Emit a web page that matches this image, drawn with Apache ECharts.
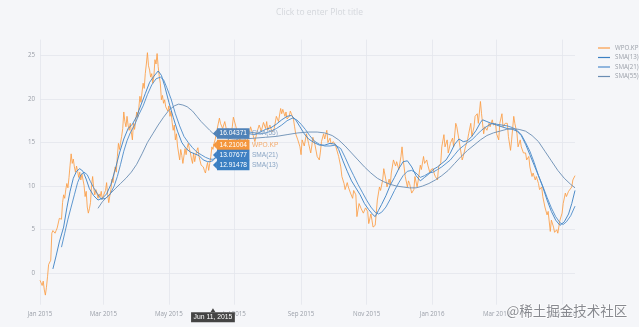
<!DOCTYPE html>
<html>
<head>
<meta charset="utf-8">
<script src="https://cdn.jsdelivr.net/npm/echarts@6/dist/echarts.min.js"></script>
<style>
  html, body { margin: 0; padding: 0; background: #f5f6f9; }
  #chart { width: 639px; height: 327px; }
</style>
</head>
<body>
<div id="chart"></div>
<script>
// Daily closes of WPO.KP with three simple moving averages.
// Days are counted from the first trading date (START).
const START = [2015, 0, 1];

const xTickLabels = ['Jan 2015', 'Mar 2015', 'May 2015', 'Jul 2015', 'Sep 2015',
                     'Nov 2015', 'Jan 2016', 'Mar 2016', 'May 2016'];
const yTicks = [0, 5, 10, 15, 20, 25];

const priceDay = [
  0,1,2,3,4,5,6,7,8,9,10,11,12,13,14,15,16,17,18,19,20,21,22,23,24,25,26,27,28,29,
  30,31,32,33,34,35,36,37,38,39,40,41,42,43,44,45,46,47,48,49,50,51,52,53,54,55,56,57,58,59,
  60,61,62,63,64,65,66,67,68,69,70,71,72,73,74,75,76,77,78,79,80,81,82,83,84,85,86,87,88,89,
  90,91,92,93,94,95,96,97,98,99,100,101,102,103,104,105,106,107,108,109,110,111,112,113,114,115,116,117,118,119,
  120,121,122,123,124,125,126,127,128,129,130,131,132,133,134,135,136,137,138,139,140,141,142,143,144,145,146,147,148,149,
  150,151,152,153,154,155,156,157,158,159,160,161,162,163,
  165,167,168,170,172,174,175,177,179,180,182,184,186,188,190,192,194,196,198,200,202,204,206,208,210,211,212,214,216,218,
  220,222,224,225,226,228,229,230,232,233,234,236,237,238,240,242,243,244,246,248,250,252,253,254,256,258,260,261,262,264,
  265,267,268,270,271,273,275,276,278,280,281,283,284,286,287,289,291,292,294,295,297,299,301,303,305,306,308,309,310,312,
  313,314,316,317,319,320,322,323,325,326,327,329,331,332,334,336,337,338,340,342,343,344,346,348,349,351,352,354,355,357,
  358,360,361,363,364,366,367,368,370,371,373,374,376,377,379,380,382,384,385,387,388,390,391,393,394,396,398,399,401,402,
  404,405,407,408,410,411,413,414,416,418,419,421,422,424,425,427,428,430,431,433,435,436,438,439,441,442,444,445,447,448,
  450,452,453,455,456,458,459,461,462,464,465,467,468,470,472,473,475,476,478,479,481,482,484,486,487,489,490,492,493,495,
  496,498
];
const priceValue = [
  -0.8,-1.1,-1.4,-0.9,-1.9,-2.5,-1.6,-0.4,1.0,0.8,1.5,4.6,4.9,4.7,4.6,4.9,5.2,5.0,6.3,6.5,6.2,8.1,9.0,8.6,9.6,10.3,9.8,11.0,12.4,13.7,
  12.6,13.1,12.2,11.6,12.3,11.7,11.0,11.6,10.7,11.4,11.6,10.1,8.8,9.4,7.6,6.9,7.4,8.1,10.1,11.1,9.8,9.0,9.6,9.2,8.6,9.1,8.8,9.4,8.5,8.9,
  9.0,9.5,10.4,9.0,8.1,8.9,9.6,10.8,10.4,11.5,12.2,11.6,13.4,14.9,14.2,15.0,15.7,16.6,18.5,17.4,16.8,18.0,17.0,16.4,17.2,16.2,15.3,17.2,16.5,17.4,
  18.5,17.9,19.0,20.3,19.6,20.8,21.8,21.2,22.9,24.0,25.3,23.8,23.3,22.5,22.9,21.8,22.6,24.5,24.0,25.2,23.7,22.6,21.8,19.9,20.4,19.5,19.9,19.1,19.3,18.6,
  19.2,18.0,18.6,17.3,16.4,17.0,15.3,16.0,14.6,13.8,13.0,14.2,13.5,12.6,12.6,14.3,13.6,14.4,14.9,14.3,13.8,13.1,12.6,13.8,12.8,13.5,14.1,14.4,13.4,12.9,
  12.4,12.6,12.2,11.8,11.5,12.2,12.7,11.8,12.6,13.4,14.5,14.21004,14.9,15.3,
  16.6,17.8,17.2,16.6,17.4,16.2,16.6,15.4,16.8,17.9,17.0,16.0,15.2,16.4,15.8,14.9,15.6,16.8,16.0,15.1,16.2,17.0,16.3,17.3,16.6,17.4,16.4,17.0,16.2,16.6,
  18.0,17.4,18.9,18.3,18.8,18.0,18.5,17.7,18.0,18.6,18.3,17.6,16.8,16.0,15.3,14.5,13.6,15.3,14.6,16.0,14.9,13.8,14.6,15.6,14.7,13.4,13.0,13.9,15.1,16.0,
  15.4,16.4,15.0,15.5,14.8,15.1,14.7,14.9,13.4,12.2,11.1,10.3,9.6,10.4,9.9,9.2,8.6,9.5,9.0,6.5,8.0,7.4,6.9,7.5,7.1,5.7,6.8,6.1,5.3,5.5,
  6.9,8.4,9.9,9.5,10.7,12.0,10.7,9.9,10.8,10.1,11.5,13.0,12.3,12.8,11.9,13.4,14.5,13.1,11.1,9.9,10.6,10.3,9.2,9.6,11.1,9.9,10.6,12.4,11.9,13.4,
  12.6,13.0,12.4,11.5,11.9,12.0,11.4,11.1,10.7,12.2,12.6,14.5,15.9,14.5,15.3,13.8,14.9,15.5,14.5,17.2,16.8,15.3,14.5,13.0,13.4,14.5,15.3,16.0,17.2,15.7,
  16.8,18.0,18.3,17.2,19.7,18.3,16.0,16.8,16.4,17.2,16.8,17.6,17.0,17.2,16.0,15.3,17.2,18.3,16.8,17.2,17.2,15.7,14.1,15.3,18.0,17.2,16.0,14.5,15.3,14.5,
  13.8,13.8,13.0,13.4,12.2,11.1,11.5,10.7,11.1,10.3,9.6,9.9,8.8,7.6,6.7,7.1,4.8,6.1,5.3,4.7,5.0,4.6,6.1,6.9,8.0,9.2,8.8,9.4,9.6,9.9,
  10.7,11.2
];

const sma13Day = [
  12,15,18,22,25,28,31,34,37,40,43,46,50,54,58,62,66,70,74,78,82,86,90,94,98,102,106,110,113,116,
  120,124,128,132,136,140,144,148,152,156,158,161,165,170,175,180,185,190,195,200,205,210,215,220,225,230,234,238,242,246,
  250,255,260,265,270,275,278,282,286,290,294,298,302,306,310,312,315,318,322,326,330,334,338,342,346,350,354,358,362,366,
  370,374,378,382,386,390,394,398,402,406,410,412,416,420,425,430,435,440,444,448,452,456,460,464,468,472,476,480,484,488,
  492,495,498
];
const sma13Value = [
  0.5,2.0,3.6,5.3,7.5,9.4,10.9,11.7,12.0,11.7,10.8,9.7,8.9,8.4,8.6,9.1,10.2,11.9,13.8,15.4,16.6,17.1,18.0,19.3,20.6,21.9,22.6,23.2,22.7,21.5,
  19.6,17.9,16.3,15.0,14.3,13.9,13.7,13.5,13.0,12.8,12.8,12.91478,13.6,14.4,15.3,16.0,16.3,16.4,16.0,15.9,16.2,16.5,16.7,17.1,17.6,18.0,18.1,17.6,16.8,16.0,
  15.4,15.0,14.7,14.7,14.9,14.8,14.2,12.9,11.7,10.6,9.8,9.0,8.0,7.3,6.7,6.5,7.2,7.9,8.9,10.1,11.0,12.0,12.8,12.9,12.2,11.2,10.6,11.0,11.4,11.9,
  12.2,12.6,13.0,13.8,14.8,15.4,15.1,15.2,15.7,16.4,17.3,17.6,17.4,17.2,17.0,16.8,16.6,16.5,16.3,15.8,14.8,13.6,12.4,11.2,9.9,8.4,7.1,6.1,5.5,5.9,
  6.8,8.0,9.5
];

const sma21Day = [
  20,23,26,29,32,35,38,41,44,47,50,54,57,61,65,69,72,75,78,81,84,88,92,96,100,104,108,112,115,118,
  122,126,130,134,138,142,146,150,154,158,161,165,170,175,180,185,190,195,200,205,210,215,220,225,230,235,239,243,247,251,
  255,260,265,270,275,280,284,288,292,296,300,304,308,312,315,318,322,326,330,334,338,342,346,350,354,358,362,366,370,374,
  378,382,386,390,394,398,402,406,410,414,418,421,425,430,435,440,444,448,452,456,460,464,468,472,476,480,484,487,490,494,
  498
];
const sma21Value = [
  3.0,4.6,6.2,7.6,9.0,10.4,11.3,11.6,11.3,10.5,9.8,9.0,8.5,8.6,9.0,10.0,11.1,12.5,14.0,15.2,16.1,17.0,18.2,19.2,20.5,21.6,22.3,22.5,22.2,21.3,
  20.0,18.3,16.9,15.7,15.0,14.4,13.9,13.6,13.3,13.1,13.07677,13.3,13.8,14.4,15.0,15.5,16.0,16.2,16.1,16.0,16.1,16.3,16.6,17.0,17.5,17.8,17.6,17.1,16.5,15.8,
  15.2,14.8,14.6,14.6,14.7,14.3,13.3,12.2,11.2,10.2,9.3,8.4,7.6,7.0,6.8,7.0,7.6,8.5,9.5,10.4,11.2,11.7,11.8,11.5,11.0,11.2,11.5,11.6,11.9,12.2,
  12.6,13.0,13.6,14.2,14.6,15.0,15.3,15.8,16.3,16.7,17.0,17.2,17.1,17.0,16.9,16.7,16.4,15.9,15.0,14.0,12.7,11.2,10.0,8.7,7.5,6.5,5.8,5.6,5.9,6.6,
  7.7
];

const sma55Day = [
  54,58,62,66,70,75,80,85,90,95,100,105,110,115,120,125,129,133,137,142,146,150,154,158,161,165,170,180,190,200,
  210,220,230,240,250,258,265,272,278,284,290,296,302,308,314,320,326,332,338,344,350,356,362,368,374,380,386,392,398,404,
  410,416,422,428,434,440,446,452,458,464,470,476,482,488,494,498
];
const sma55Value = [
  7.45,8.2,8.7,9.2,9.7,10.3,10.9,11.6,12.5,13.7,15.0,16.0,17.0,17.9,18.7,19.2,19.4,19.3,19.1,18.6,18.0,17.4,16.9,16.4,16.04371,15.8,15.6,15.4,15.4,15.5,
  15.6,15.7,15.9,16.1,16.2,16.2,16.1,15.8,15.3,14.6,13.8,13.0,12.2,11.5,10.9,10.5,10.2,10.0,9.9,9.8,9.8,10.0,10.3,10.7,11.2,11.8,12.6,13.4,14.1,14.7,
  15.3,15.8,16.1,16.3,16.5,16.6,16.5,16.3,15.8,15.1,14.0,12.9,11.8,10.9,10.2,9.8
];

// Day shown in the hover read-out
const HOVER_DAY = 161;

const MONTHS = ['Jan','Feb','Mar','Apr','May','Jun','Jul','Aug','Sep','Oct','Nov','Dec'];
const Y_MIN = -3.6, Y_MAX = 26.8;

function dayToTime(d) {
  return new Date(START[0], START[1], START[2] + d).getTime();
}
function labelToTime(s) {
  const [m, y] = s.split(' ');
  return new Date(+y, MONTHS.indexOf(m), 1).getTime();
}
function pairs(days, values) {
  return days.map((d, i) => [dayToTime(d), values[i]]);
}
function valueAt(days, values, d) {
  return values[days.indexOf(d)];
}

const tickTimes = xTickLabels.map(labelToTime);
const hoverTime = dayToTime(HOVER_DAY);
const hoverDate = new Date(hoverTime);
const hoverText = MONTHS[hoverDate.getMonth()] + ' ' + hoverDate.getDate() + ', ' + hoverDate.getFullYear();

const TEXT = '#9a9fa8';
const HOVER_FONT = 'Liberation Sans, Arial, sans-serif';

// Plotly-like hover tag item: an arrow at the point, a filled box with the
// value, then the trace name in the trace colour.
function hoverTag(name, value, boxColor, nameColor, dy) {
  return {
    coord: [hoverTime, value],
    symbol: 'path://M0,5 L6,0 L6,10 Z',
    symbolSize: [4, 8],
    symbolKeepAspect: false,
    symbolOffset: [2, dy],
    itemStyle: { color: boxColor },
    label: {
      show: true,
      position: 'right',
      distance: 0,
      formatter: '{v|' + value + '}{n|' + name + '}',
      rich: {
        v: {
          backgroundColor: boxColor, color: '#ffffff', fontFamily: HOVER_FONT,
          fontSize: 6.6, padding: [2, 2.5, 1.5, 2.5], lineHeight: 7
        },
        n: {
          color: nameColor, fontFamily: HOVER_FONT, fontSize: 6.6,
          padding: [0, 0, 0, 2.5], lineHeight: 7
        }
      }
    }
  };
}
function tagLayer(items) {
  return { silent: true, animation: false, data: items };
}

const priceAtHover = valueAt(priceDay, priceValue, HOVER_DAY);

const series = [
  {
    name: 'WPO.KP', type: 'line', showSymbol: false, symbol: 'none',
    data: pairs(priceDay, priceValue),
    lineStyle: { color: '#fb9d45', width: 0.85 }, itemStyle: { color: '#fb9d45' },
    z: 2,
    markPoint: tagLayer([
      hoverTag('WPO.KP', priceAtHover, '#f4963c', '#f3a969', -4.4),
      {
        coord: [hoverTime, Y_MIN],
        symbol: 'triangle', symbolSize: [5, 4], symbolOffset: [0, 5.6],
        itemStyle: { color: '#444444' },
        label: {
          show: true, position: 'bottom', distance: 0,
          formatter: hoverText,
          backgroundColor: '#444444', color: '#ffffff',
          fontFamily: HOVER_FONT, fontSize: 6.8, padding: [1.5, 2.5, 1.5, 2.5]
        }
      }
    ])
  },
  {
    name: 'SMA(13)', type: 'line', showSymbol: false, symbol: 'none',
    data: pairs(sma13Day, sma13Value),
    lineStyle: { color: '#3b80c3', width: 0.9 }, itemStyle: { color: '#3b80c3' }, z: 3,
    markPoint: tagLayer([hoverTag('SMA(13)', valueAt(sma13Day, sma13Value, HOVER_DAY), '#3a7fc2', '#8aa5c4', 4.3)])
  },
  {
    name: 'SMA(21)', type: 'line', showSymbol: false, symbol: 'none',
    data: pairs(sma21Day, sma21Value),
    lineStyle: { color: '#4d8ccb', width: 0.9 }, itemStyle: { color: '#4d8ccb' }, z: 3,
    markPoint: tagLayer([hoverTag('SMA(21)', valueAt(sma21Day, sma21Value, HOVER_DAY), '#3f80c3', '#8aa5c4', -4.3)])
  },
  {
    name: 'SMA(55)', type: 'line', showSymbol: false, symbol: 'none',
    data: pairs(sma55Day, sma55Value),
    lineStyle: { color: '#6a8db3', width: 0.9 }, itemStyle: { color: '#6a8db3' }, z: 3,
    markPoint: tagLayer([hoverTag('SMA(55)', valueAt(sma55Day, sma55Value, HOVER_DAY), '#4f82b8', '#8aa5c4', 0)])
  }
];

const chart = echarts.init(document.getElementById('chart'), null, { renderer: 'canvas' });
chart.setOption({
  animation: false,
  backgroundColor: '#f5f6f9',
  textStyle: { fontFamily: 'Open Sans, sans-serif' },
  title: {
    text: 'Click to enter Plot title',
    left: 'center', top: 3,
    textStyle: { fontSize: 8.5, fontWeight: 'normal', color: '#d4d7dc', fontFamily: 'Open Sans' }
  },
  legend: {
    orient: 'vertical', left: 593, top: 40,
    icon: 'rect', itemWidth: 12, itemHeight: 1.2, itemGap: 3.5,
    textStyle: { fontSize: 6.2, color: TEXT, fontFamily: 'Open Sans' },
    data: ['WPO.KP', 'SMA(13)', 'SMA(21)', 'SMA(55)']
  },
  grid: { left: 40, right: 64, top: 39.6, bottom: 22.3 },
  xAxis: {
    type: 'value',
    min: dayToTime(0), max: dayToTime(priceDay[priceDay.length - 1]),
    axisLine: { show: false },
    axisTick: { show: false, customValues: tickTimes },
    axisLabel: {
      customValues: tickTimes,
      formatter: (v) => xTickLabels[tickTimes.indexOf(v)] || '',
      color: TEXT, fontSize: 6.2, margin: 7, fontFamily: 'Open Sans'
    },
    splitLine: { show: true, lineStyle: { color: '#e3e6ec', width: 0.8 } }
  },
  yAxis: {
    type: 'value',
    min: Y_MIN, max: Y_MAX,
    axisLine: { show: false },
    axisTick: { show: false, customValues: yTicks },
    axisLabel: {
      customValues: yTicks,
      color: TEXT, fontSize: 6.2, margin: 5, fontFamily: 'Open Sans'
    },
    splitLine: { show: true, lineStyle: { color: '#e3e6ec', width: 0.8 } }
  },
  graphic: [{
    type: 'text', right: 11, bottom: 9, z: 100,
    style: {
      text: '@稀土掘金技术社区',
      font: '13.5px "Noto Sans CJK SC"',
      fill: 'rgba(115,118,124,0.85)',
      stroke: 'rgba(255,255,255,0.7)', lineWidth: 1.5
    }
  }],
  series: series
});
</script>
</body>
</html>
